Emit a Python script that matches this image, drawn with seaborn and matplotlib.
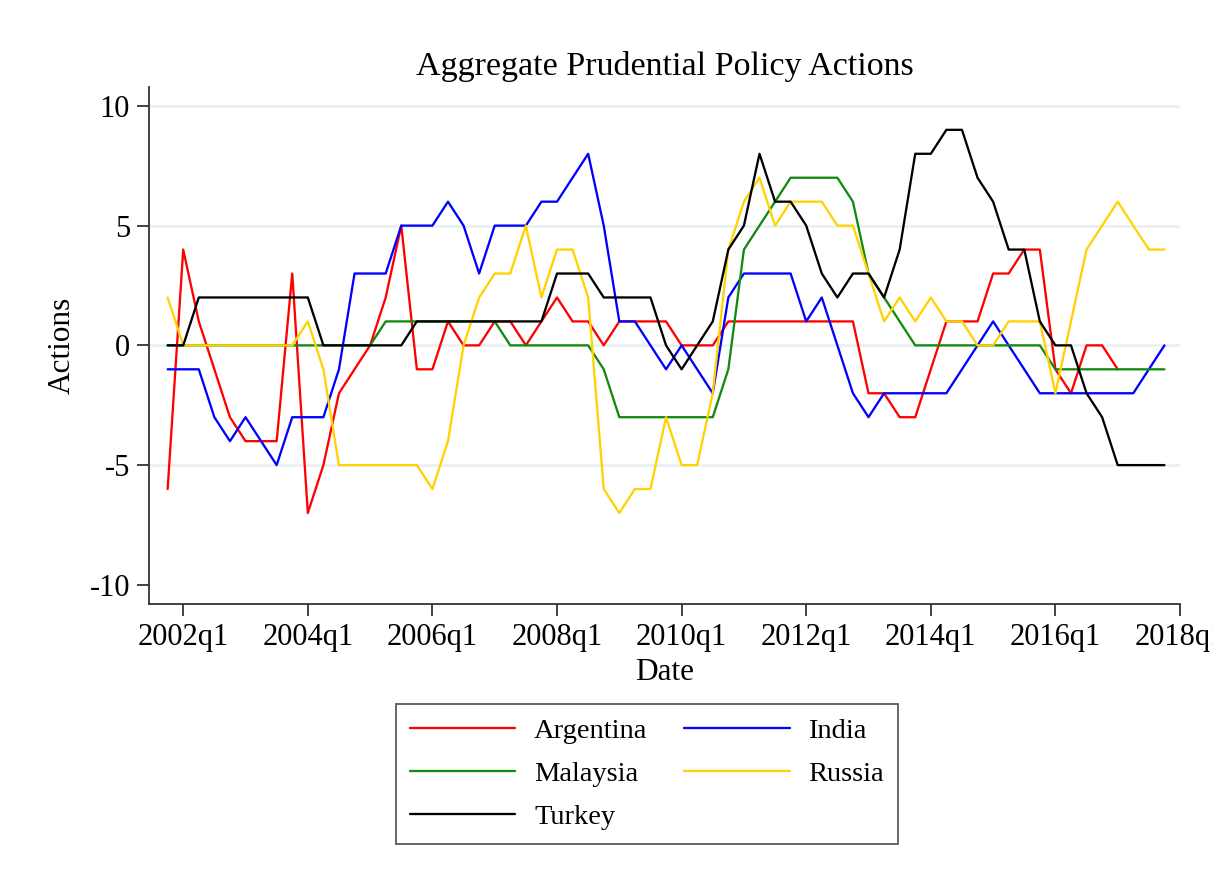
import numpy as np
import pandas as pd
import matplotlib
matplotlib.use("Agg")
import matplotlib.pyplot as plt
import seaborn as sns

# quarterly data, 2001q4 .. 2017q4 (65 quarters)
nan = np.nan
argentina = [-6, 4, 1, -1, -3, -4, -4, -4, 3, -7,
             -5, -2, -1, 0, 2, 5, -1, -1, 1, 0,
             0, 1, 1, 0, 1, 2, 1, 1, 0, 1,
             1, 1, 1, 0, 0, 0, 1, 1, 1, 1,
             1, 1, 1, 1, 1, -2, -2, -3, -3, -1,
             1, 1, 1, 3, 3, 4, 4, -1, -2, 0,
             0, -1, nan, nan, nan]
india = [-1, -1, -1, -3, -4, -3, -4, -5, -3, -3,
         -3, -1, 3, 3, 3, 5, 5, 5, 6, 5,
         3, 5, 5, 5, 6, 6, 7, 8, 5, 1,
         1, 0, -1, 0, -1, -2, 2, 3, 3, 3,
         3, 1, 2, 0, -2, -3, -2, -2, -2, -2,
         -2, -1, 0, 1, 0, -1, -2, -2, -2, -2,
         -2, -2, -2, -1, 0]
malaysia = [0, 0, 0, 0, 0, 0, 0, 0, 0, 0,
            0, 0, 0, 0, 1, 1, 1, 1, 1, 1,
            1, 1, 0, 0, 0, 0, 0, 0, -1, -3,
            -3, -3, -3, -3, -3, -3, -1, 4, 5, 6,
            7, 7, 7, 7, 6, 3, 2, 1, 0, 0,
            0, 0, 0, 0, 0, 0, 0, -1, -1, -1,
            -1, -1, -1, -1, -1]
russia = [2, 0, 0, 0, 0, 0, 0, 0, 0, 1,
          -1, -5, -5, -5, -5, -5, -5, -6, -4, 0,
          2, 3, 3, 5, 2, 4, 4, 2, -6, -7,
          -6, -6, -3, -5, -5, -2, 4, 6, 7, 5,
          6, 6, 6, 5, 5, 3, 1, 2, 1, 2,
          1, 1, 0, 0, 1, 1, 1, -2, 1, 4,
          5, 6, 5, 4, 4]
turkey = [0, 0, 2, 2, 2, 2, 2, 2, 2, 2,
          0, 0, 0, 0, 0, 0, 1, 1, 1, 1,
          1, 1, 1, 1, 1, 3, 3, 3, 2, 2,
          2, 2, 0, -1, 0, 1, 4, 5, 8, 6,
          6, 5, 3, 2, 3, 3, 2, 4, 8, 8,
          9, 9, 7, 6, 4, 4, 1, 0, 0, -2,
          -3, -5, -5, -5, -5]

countries = ["Argentina", "India", "Malaysia", "Russia", "Turkey"]
colors = {"Argentina": "#ff0000", "India": "#0000ff", "Malaysia": "#118a11",
          "Russia": "#ffd200", "Turkey": "#000000"}
tick_labels = ["2002q1", "2004q1", "2006q1", "2008q1", "2010q1",
               "2012q1", "2014q1", "2016q1", "2018q1"]

# quarter index, 2002q1 = 0
quarter = np.arange(-1, 64)
series = [argentina, india, malaysia, russia, turkey]
df = pd.concat([pd.DataFrame({"Date": quarter, "Actions": s, "Country": c})
                for c, s in zip(countries, series)], ignore_index=True)

sns.set_theme(style="white")
plt.rcParams["font.family"] = ["Liberation Serif", "DejaVu Serif"]
plt.rcParams["text.color"] = "black"
plt.rcParams["xtick.color"] = "#333333"
plt.rcParams["ytick.color"] = "#333333"
plt.rcParams["xtick.labelcolor"] = "black"
plt.rcParams["ytick.labelcolor"] = "black"

fig = plt.figure(figsize=(12.13, 8.76), dpi=100)
ax = fig.add_axes([0.1228, 0.3105, 0.85, 0.5905])

for yv in [10, 5, 0, -5]:
    ax.axhline(yv, color="#e8f0f2", lw=1.8, zorder=0)

sns.lineplot(data=df, x="Date", y="Actions", hue="Country", hue_order=countries,
             palette=colors, linewidth=1.65, ax=ax, legend=False, estimator=None)

ax.set_xlim(-2.2, 64)
ax.set_ylim(-10.8, 10.8)
ax.set_xticks(np.arange(0, 65, 8))
ax.set_xticklabels(tick_labels)
ax.set_yticks([-10, -5, 0, 5, 10])
ax.set_yticklabels(["-10", "-5", "0", "5", "10"])
ax.tick_params(axis="both", labelsize=22, length=8.5, width=1.3,
               direction="out", pad=5)
ax.tick_params(axis="x", bottom=True)
ax.tick_params(axis="y", left=True)
for side in ["top", "right"]:
    ax.spines[side].set_visible(False)
for side in ["left", "bottom"]:
    ax.spines[side].set_color("#333333")
    ax.spines[side].set_linewidth(1.3)
ax.set_xlabel("")
ax.set_ylabel("")

fig.text(664.5 / 1213, 1 - 66 / 876, "Aggregate Prudential Policy Actions",
         ha="center", va="center", fontsize=24.5)
fig.text(664.5 / 1213, 1 - 672 / 876, "Date", ha="center", va="center", fontsize=22.5)
fig.text(62 / 1213, 1 - 345 / 876, "Actions", ha="center", va="center",
         rotation=90, fontsize=22.5)

# legend filled column-wise: reorder so rows read Argentina/India, Malaysia/Russia, Turkey
order = ["Argentina", "Malaysia", "Turkey", "India", "Russia"]
handles = [plt.Line2D([], [], color=colors[c], lw=1.65) for c in order]
leg = fig.legend(handles, order, ncol=2, loc="center",
                 bbox_to_anchor=(647 / 1213, 1 - 774 / 876), fontsize=20.5,
                 frameon=True, fancybox=False, edgecolor="#333333",
                 handlelength=3.7, handletextpad=0.65, columnspacing=1.3,
                 labelspacing=0.6, borderpad=0.5)
leg.get_frame().set_linewidth(1.3)

fig.savefig("out.png", dpi=100)
